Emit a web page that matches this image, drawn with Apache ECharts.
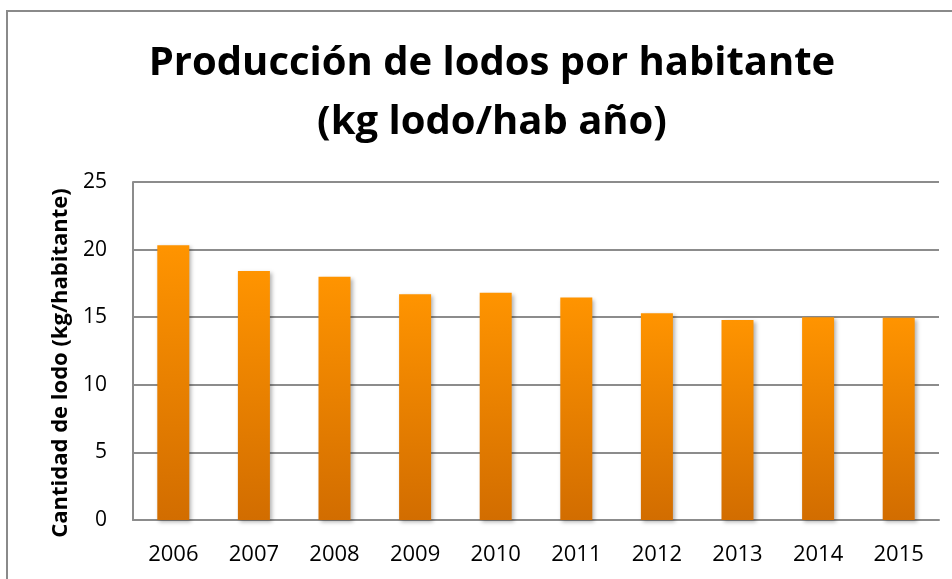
<!DOCTYPE html>
<html>
<head>
<meta charset="utf-8">
<script src="https://cdn.jsdelivr.net/npm/echarts@6/dist/echarts.min.js"></script>
<style>
html,body{margin:0;padding:0;background:#fff;}
#chart{width:952px;height:579px;}
</style>
</head>
<body>
<div id="chart"></div>
<script>
var titleLines = ['Producción de lodos por habitante', '(kg lodo/hab año)'];
var yAxisName = 'Cantidad de lodo (kg/habitante)';
var categories = ['2006','2007','2008','2009','2010','2011','2012','2013','2014','2015'];
var values = [20.33, 18.41, 17.99, 16.7, 16.8, 16.45, 15.3, 14.8, 15.0, 14.96];
var yMin = 0, yMax = 25, yInterval = 5;

var chart = echarts.init(document.getElementById('chart'), null, {renderer: 'canvas'});
var FONT = 'Open Sans';
chart.setOption({
  animation: false,
  backgroundColor: '#ffffff',
  title: {
    text: titleLines.join('\n'),
    left: 487,
    top: 29,
    textAlign: 'center',
    textStyle: {fontFamily: FONT, fontWeight: 'bold', fontSize: 40, lineHeight: 59, color: '#000'}
  },
  graphic: [{
    type: 'rect',
    shape: {x: 7, y: 11, width: 1000, height: 1000},
    style: {fill: 'none', stroke: '#8a8a8a', lineWidth: 2},
    silent: true
  }],
  grid: {left: 133, top: 182, right: 13, bottom: 59},
  xAxis: {
    type: 'category',
    data: categories,
    axisLine: {lineStyle: {color: '#8c8c8c', width: 2}},
    axisTick: {show: false},
    axisLabel: {fontFamily: FONT, fontSize: 22, color: '#000', margin: 24}
  },
  yAxis: {
    type: 'value',
    min: yMin, max: yMax, interval: yInterval,
    name: yAxisName,
    nameLocation: 'middle',
    nameGap: 61,
    nameTextStyle: {fontFamily: FONT, fontWeight: 'bold', fontSize: 22, color: '#000', padding: [0, 24, 0, 0]},
    axisLine: {show: true, lineStyle: {color: '#8c8c8c', width: 2}},
    axisTick: {show: false},
    splitLine: {lineStyle: {color: '#8c8c8c', width: 2}},
    axisLabel: {fontFamily: FONT, fontSize: 21, color: '#000', margin: 26}
  },
  series: [{
    type: 'bar',
    data: values,
    barWidth: 32,
    itemStyle: {
      color: new echarts.graphic.LinearGradient(0, 0, 0, 1, [
        {offset: 0, color: '#ff9400'},
        {offset: 1, color: '#d26d00'}
      ]),
      shadowColor: 'rgba(0,0,0,0.3)',
      shadowBlur: 4,
      shadowOffsetX: 2,
      shadowOffsetY: 2
    }
  }]
});
</script>
</body>
</html>
